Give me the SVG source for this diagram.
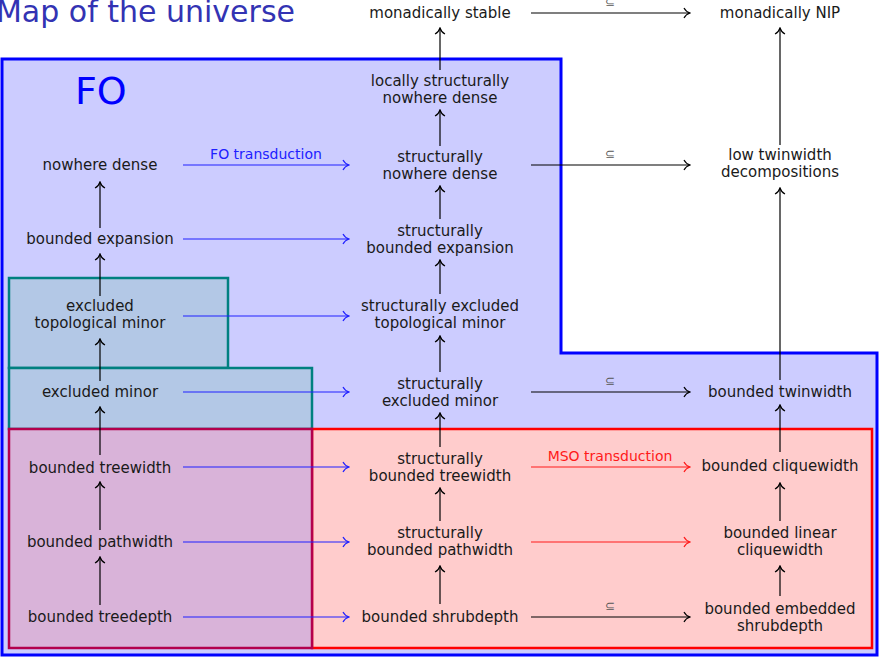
<svg xmlns="http://www.w3.org/2000/svg" width="879" height="657" viewBox="0 0 879 657">
<style>
.n{font-family:"DejaVu Sans",sans-serif;font-size:15px;fill:#1a1a1a;text-anchor:middle}
.sub{font-family:"DejaVu Sans",sans-serif;font-size:12px;fill:#555;text-anchor:middle}
.lb{font-family:"DejaVu Sans",sans-serif;font-size:14px;text-anchor:middle}
.k{stroke:#000;stroke-width:1.2;fill:none;marker-end:url(#ak)}
.b{stroke:#2020ff;stroke-width:1.2;fill:none;marker-end:url(#ab)}
.r{stroke:#ff1a1a;stroke-width:1.2;fill:none;marker-end:url(#ar)}
</style>
<defs>
<marker id="ak" markerUnits="userSpaceOnUse" viewBox="-7 -6 8 12" markerWidth="8" markerHeight="12" refX="0" refY="0" orient="auto"><path d="M-6,-5 C-4.5,-2 -2,-0.6 0,0 C-2,0.6 -4.5,2 -6,5" fill="none" stroke="#000" stroke-width="1.2"/></marker>
<marker id="ab" markerUnits="userSpaceOnUse" viewBox="-7 -6 8 12" markerWidth="8" markerHeight="12" refX="0" refY="0" orient="auto"><path d="M-6,-5 C-4.5,-2 -2,-0.6 0,0 C-2,0.6 -4.5,2 -6,5" fill="none" stroke="#2020ff" stroke-width="1.2"/></marker>
<marker id="ar" markerUnits="userSpaceOnUse" viewBox="-7 -6 8 12" markerWidth="8" markerHeight="12" refX="0" refY="0" orient="auto"><path d="M-6,-5 C-4.5,-2 -2,-0.6 0,0 C-2,0.6 -4.5,2 -6,5" fill="none" stroke="#ff1a1a" stroke-width="1.2"/></marker>
</defs>
<rect width="879" height="657" fill="#fff"/>
<g id="regions">
<path d="M2,59 H561 V353 H877 V655 H2 Z" fill="#ccccff" stroke="#0000ff" stroke-width="3"/>
<rect x="9" y="278" width="219" height="90" fill="#b3c8e6" stroke="#008080" stroke-width="2.5"/>
<rect x="9" y="368" width="303" height="61" fill="#b3c8e6" stroke="#008080" stroke-width="2.5"/>
<rect x="312" y="429" width="560" height="219" fill="#ffcccc" stroke="#ff0000" stroke-width="2.5"/>
<rect x="9" y="429" width="303" height="219" fill="#d9b3d9" stroke="#b3004d" stroke-width="2.5"/>
</g>
<text x="295" y="22" font-family="DejaVu Sans, sans-serif" font-size="30" fill="#3333b3" text-anchor="end">Map of the universe</text>
<text x="75" y="104" font-family="DejaVu Sans, sans-serif" font-size="38" fill="#0000ff">FO</text>
<g id="connectors">
<path class="k" d="M100,228 V182"/>
<path class="k" d="M100,296 V254"/>
<path class="k" d="M100,381 V339"/>
<path class="k" d="M100,455 V407"/>
<path class="k" d="M100,530 V482"/>
<path class="k" d="M100,605 V557"/>
<path class="k" d="M440,70 V28"/>
<path class="k" d="M440,146 V110"/>
<path class="k" d="M440,219 V186"/>
<path class="k" d="M440,294 V260"/>
<path class="k" d="M440,372 V336"/>
<path class="k" d="M440,447 V413"/>
<path class="k" d="M440,521 V488"/>
<path class="k" d="M440,604 V566"/>
<path class="k" d="M780,145 V28"/>
<path class="k" d="M780,380 V188"/>
<path class="k" d="M780,452 V405"/>
<path class="k" d="M780,521 V483"/>
<path class="k" d="M780,596 V566"/>
<path class="k" d="M531,13 H690"/>
<path class="k" d="M531,165 H690"/>
<path class="k" d="M531,392 H690"/>
<path class="k" d="M531,617 H690"/>
<path class="r" d="M531,467 H690"/>
<path class="r" d="M531,542 H690"/>
<path class="b" d="M183,165 H349"/>
<path class="b" d="M183,239 H349"/>
<path class="b" d="M183,316 H349"/>
<path class="b" d="M183,392 H349"/>
<path class="b" d="M183,467 H349"/>
<path class="b" d="M183,542 H349"/>
<path class="b" d="M183,617 H349"/>
<text class="sub" x="610" y="6">⊆</text>
<text class="sub" x="610" y="158">⊆</text>
<text class="sub" x="610" y="385">⊆</text>
<text class="sub" x="610" y="610">⊆</text>
<text class="lb" x="266" y="159" fill="#2020ff">FO transduction</text>
<text class="lb" x="610" y="461" fill="#ff1a1a">MSO transduction</text>
</g>
<g id="n-nowhere-dense"><text class="n" x="100" y="170">nowhere dense</text></g>
<g id="n-bounded-expansion"><text class="n" x="100" y="244">bounded expansion</text></g>
<g id="n-excluded-top-minor"><text class="n" x="100" y="311">excluded</text><text class="n" x="100" y="328">topological minor</text></g>
<g id="n-excluded-minor"><text class="n" x="100" y="397">excluded minor</text></g>
<g id="n-bounded-treewidth"><text class="n" x="100" y="473">bounded treewidth</text></g>
<g id="n-bounded-pathwidth"><text class="n" x="100" y="547">bounded pathwidth</text></g>
<g id="n-bounded-treedepth"><text class="n" x="100" y="622">bounded treedepth</text></g>
<g id="n-monadically-stable"><text class="n" x="440" y="18">monadically stable</text></g>
<g id="n-locally-snd"><text class="n" x="440" y="86">locally structurally</text><text class="n" x="440" y="103">nowhere dense</text></g>
<g id="n-snd"><text class="n" x="440" y="162">structurally</text><text class="n" x="440" y="179">nowhere dense</text></g>
<g id="n-sbe"><text class="n" x="440" y="236">structurally</text><text class="n" x="440" y="253">bounded expansion</text></g>
<g id="n-setm"><text class="n" x="440" y="311">structurally excluded</text><text class="n" x="440" y="328">topological minor</text></g>
<g id="n-sem"><text class="n" x="440" y="389">structurally</text><text class="n" x="440" y="406">excluded minor</text></g>
<g id="n-sbtw"><text class="n" x="440" y="464">structurally</text><text class="n" x="440" y="481">bounded treewidth</text></g>
<g id="n-sbpw"><text class="n" x="440" y="538">structurally</text><text class="n" x="440" y="555">bounded pathwidth</text></g>
<g id="n-shrubdepth"><text class="n" x="440" y="622">bounded shrubdepth</text></g>
<g id="n-monadically-nip"><text class="n" x="780" y="18">monadically NIP</text></g>
<g id="n-low-tww"><text class="n" x="780" y="160">low twinwidth</text><text class="n" x="780" y="177">decompositions</text></g>
<g id="n-bounded-tww"><text class="n" x="780" y="397">bounded twinwidth</text></g>
<g id="n-bounded-cw"><text class="n" x="780" y="471">bounded cliquewidth</text></g>
<g id="n-bounded-lcw"><text class="n" x="780" y="538">bounded linear</text><text class="n" x="780" y="555">cliquewidth</text></g>
<g id="n-bounded-esd"><text class="n" x="780" y="614">bounded embedded</text><text class="n" x="780" y="631">shrubdepth</text></g>
</svg>
